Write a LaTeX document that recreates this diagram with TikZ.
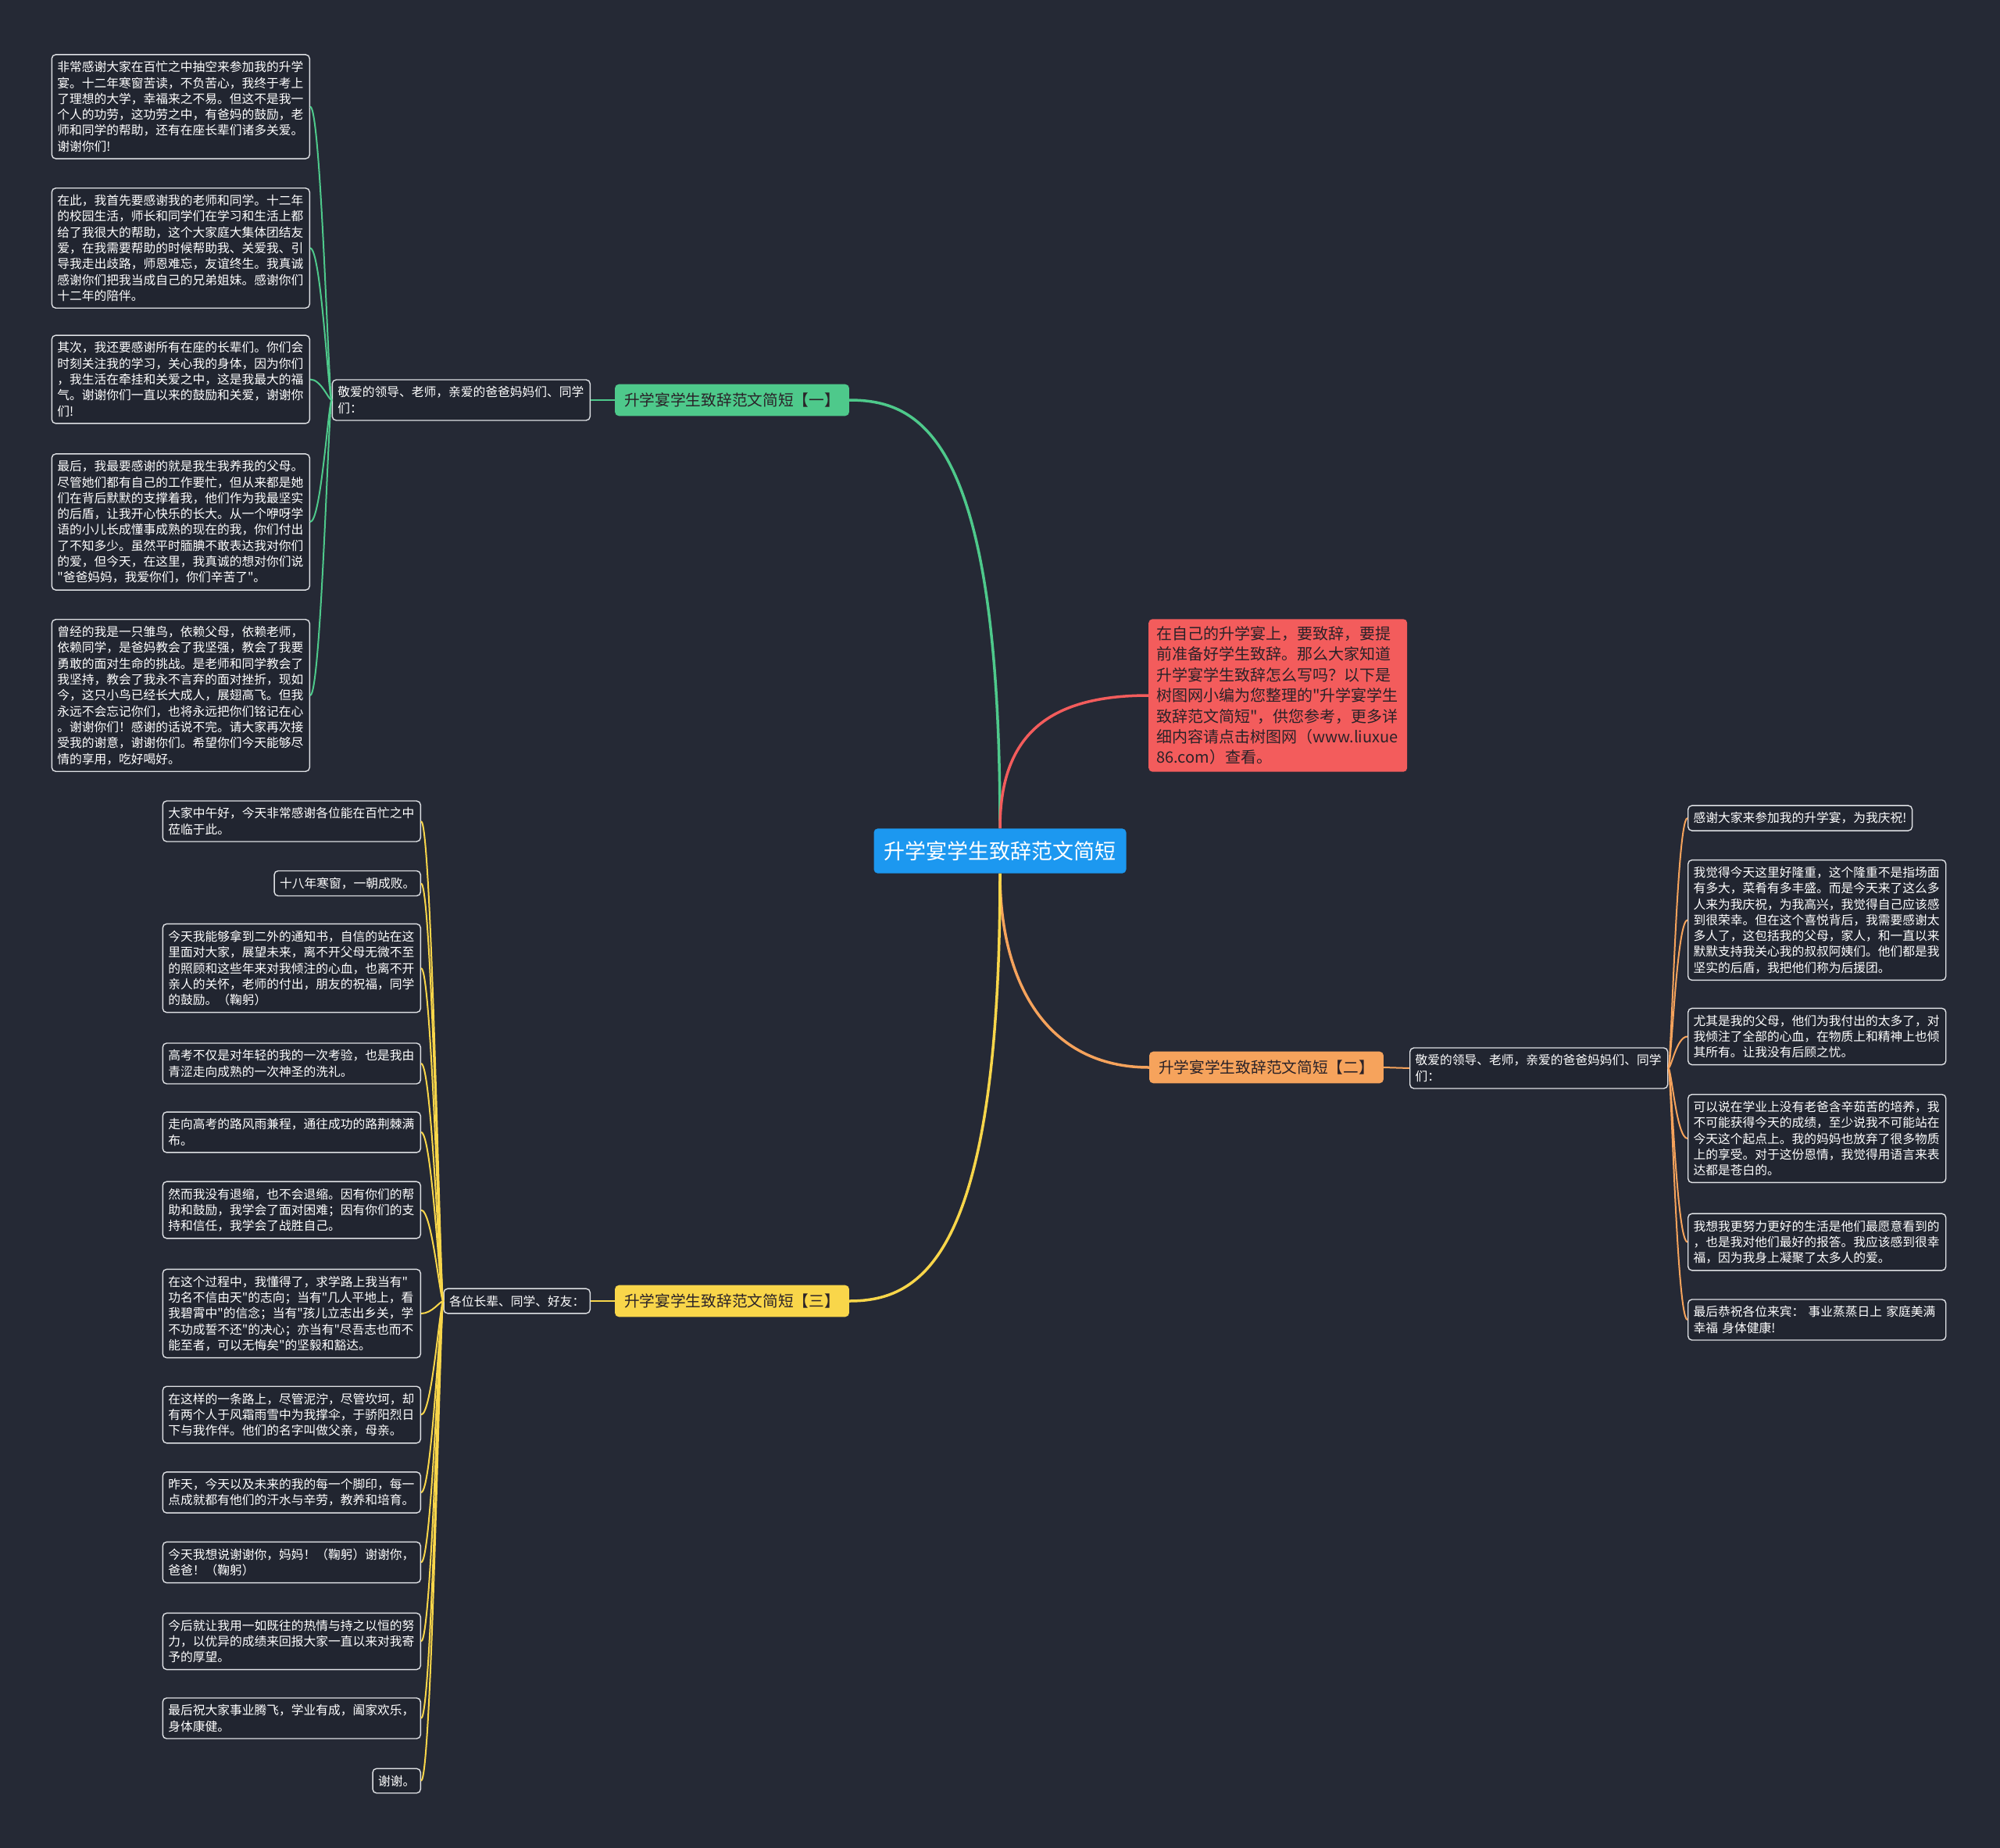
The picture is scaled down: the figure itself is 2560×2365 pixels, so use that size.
\documentclass[tikz,border=0pt]{standalone}
\usepackage{fontspec}
\setmainfont{Noto Sans CJK SC}[Ligatures=TeXOff]
\usepackage{tikz}
\newcommand{\dq}{\char34\relax}
\definecolor{bgnavy}{RGB}{37,41,53}
\definecolor{boxfill}{RGB}{33,37,48}
\definecolor{boxline}{RGB}{222,224,228}
\definecolor{topicblue}{RGB}{28,152,240}
\definecolor{introred}{RGB}{243,92,92}
\definecolor{brgreen}{RGB}{78,201,139}
\definecolor{brorange}{RGB}{246,163,92}
\definecolor{bryellow}{RGB}{249,214,74}
\definecolor{darktext}{RGB}{42,34,40}

\begin{document}
\begin{tikzpicture}[x=1pt,y=1pt,
    leaf/.style={draw=boxline, fill=boxfill, line width=1.4pt, rounded corners=5pt, text=white, align=left,
        inner xsep=7pt, inner ysep=8.5pt, font=\fontsize{15.75}{20.3}\selectfont},
    leafw/.style={leaf, text width=316pt},
    topic/.style={fill=topicblue, rounded corners=5pt, text=white, inner xsep=13pt, inner ysep=16pt,
        font=\fontsize{27}{30}\selectfont},
    intro/.style={fill=introred, rounded corners=5pt, text=darktext, align=left, text width=311pt,
        inner xsep=10pt, inner ysep=9pt, font=\fontsize{20}{26.4}\selectfont},
    branch/.style={fill=#1, rounded corners=5pt, text=darktext, inner xsep=12pt, inner ysep=11pt,
        font=\fontsize{19.7}{22}\selectfont},
    link/.style={line width=3.5pt, draw=#1},
    twig/.style={line width=2pt, draw=#1}]
    \fill[bgnavy] (0,0) rectangle (2560,-2365);
    \useasboundingbox (0,0) rectangle (2560,-2365);

    % centre and intro
    \node[topic] (main) at (1280,-1089) {升学宴学生致辞范文简短};
    \node[intro, anchor=west] (intro) at (1470,-890) {在自己的升学宴上，要致辞，要提\\前准备好学生致辞。那么大家知道\\升学宴学生致辞怎么写吗？以下是\\树图网小编为您整理的\dq 升学宴学生\\致辞范文简短\dq ，供您参考，更多详\\细内容请点击树图网（www.liuxue\\86.com）查看。};

    % the three branches
    \node[branch=brgreen] (b1) at (937,-512) {升学宴学生致辞范文简短【一】};
    \node[branch=brorange] (b2) at (1621,-1366) {升学宴学生致辞范文简短【二】};
    \node[branch=bryellow] (b3) at (937,-1665) {升学宴学生致辞范文简短【三】};

    \node[leafw, anchor=east] (s1) at (756,-512) {敬爱的领导、老师，亲爱的爸爸妈妈们、同学\\们：};
    \node[leafw, anchor=west] (s2) at (1804,-1367) {敬爱的领导、老师，亲爱的爸爸妈妈们、同学\\们：};
    \node[leaf, anchor=east] (s3) at (756,-1665) {各位长辈、同学、好友：};

    % branch one
    \node[leafw, anchor=east] (l1) at (397,-136.5) {非常感谢大家在百忙之中抽空来参加我的升学\\宴。十二年寒窗苦读，不负苦心，我终于考上\\了理想的大学，幸福来之不易。但这不是我一\\个人的功劳，这功劳之中，有爸妈的鼓励，老\\师和同学的帮助，还有在座长辈们诸多关爱。\\谢谢你们!};
    \node[leafw, anchor=east] (l2) at (397,-317.5) {在此，我首先要感谢我的老师和同学。十二年\\的校园生活，师长和同学们在学习和生活上都\\给了我很大的帮助，这个大家庭大集体团结友\\爱，在我需要帮助的时候帮助我、关爱我、引\\导我走出歧路，师恩难忘，友谊终生。我真诚\\感谢你们把我当成自己的兄弟姐妹。感谢你们\\十二年的陪伴。};
    \node[leafw, anchor=east] (l3) at (397,-485.5) {其次，我还要感谢所有在座的长辈们。你们会\\时刻关注我的学习，关心我的身体，因为你们\\，我生活在牵挂和关爱之中，这是我最大的福\\气。谢谢你们一直以来的鼓励和关爱，谢谢你\\们!};
    \node[leafw, anchor=east] (l4) at (397,-668) {最后，我最要感谢的就是我生我养我的父母。\\尽管她们都有自己的工作要忙，但从来都是她\\们在背后默默的支撑着我，他们作为我最坚实\\的后盾，让我开心快乐的长大。从一个咿呀学\\语的小儿长成懂事成熟的现在的我，你们付出\\了不知多少。虽然平时腼腆不敢表达我对你们\\的爱，但今天，在这里，我真诚的想对你们说\\\dq 爸爸妈妈，我爱你们，你们辛苦了\dq 。};
    \node[leafw, anchor=east] (l5) at (397,-890) {曾经的我是一只雏鸟，依赖父母，依赖老师，\\依赖同学，是爸妈教会了我坚强，教会了我要\\勇敢的面对生命的挑战。是老师和同学教会了\\我坚持，教会了我永不言弃的面对挫折，现如\\今，这只小鸟已经长大成人，展翅高飞。但我\\永远不会忘记你们，也将永远把你们铭记在心\\。谢谢你们！感谢的话说不完。请大家再次接\\受我的谢意，谢谢你们。希望你们今天能够尽\\情的享用，吃好喝好。};

    % branch two
    \node[leaf, anchor=west] (r1) at (2160,-1047) {感谢大家来参加我的升学宴，为我庆祝!};
    \node[leafw, anchor=west] (r2) at (2160,-1177.5) {我觉得今天这里好隆重，这个隆重不是指场面\\有多大，菜肴有多丰盛。而是今天来了这么多\\人来为我庆祝，为我高兴，我觉得自己应该感\\到很荣幸。但在这个喜悦背后，我需要感谢太\\多人了，这包括我的父母，家人，和一直以来\\默默支持我关心我的叔叔阿姨们。他们都是我\\坚实的后盾，我把他们称为后援团。};
    \node[leafw, anchor=west] (r3) at (2160,-1326.5) {尤其是我的父母，他们为我付出的太多了，对\\我倾注了全部的心血，在物质上和精神上也倾\\其所有。让我没有后顾之忧。};
    \node[leafw, anchor=west] (r4) at (2160,-1457) {可以说在学业上没有老爸含辛茹苦的培养，我\\不可能获得今天的成绩，至少说我不可能站在\\今天这个起点上。我的妈妈也放弃了很多物质\\上的享受。对于这份恩情，我觉得用语言来表\\达都是苍白的。};
    \node[leafw, anchor=west] (r5) at (2160,-1589.5) {我想我更努力更好的生活是他们最愿意看到的\\，也是我对他们最好的报答。我应该感到很幸\\福，因为我身上凝聚了太多人的爱。};
    \node[leafw, anchor=west] (r6) at (2160,-1689) {最后恭祝各位来宾： 事业蒸蒸日上 家庭美满\\幸福 身体健康!};

    % branch three
    \node[leafw, anchor=east] (m1) at (539,-1051) {大家中午好，今天非常感谢各位能在百忙之中\\莅临于此。};
    \node[leaf, anchor=east] (m2) at (539,-1130.5) {十八年寒窗，一朝成败。};
    \node[leafw, anchor=east] (m3) at (539,-1239) {今天我能够拿到二外的通知书，自信的站在这\\里面对大家，展望未来，离不开父母无微不至\\的照顾和这些年来对我倾注的心血，也离不开\\亲人的关怀，老师的付出，朋友的祝福，同学\\的鼓励。（鞠躬）};
    \node[leafw, anchor=east] (m4) at (539,-1361) {高考不仅是对年轻的我的一次考验，也是我由\\青涩走向成熟的一次神圣的洗礼。};
    \node[leafw, anchor=east] (m5) at (539,-1449) {走向高考的路风雨兼程，通往成功的路荆棘满\\布。};
    \node[leafw, anchor=east] (m6) at (539,-1548.5) {然而我没有退缩，也不会退缩。因有你们的帮\\助和鼓励，我学会了面对困难；因有你们的支\\持和信任，我学会了战胜自己。};
    \node[leafw, anchor=east] (m7) at (539,-1681) {在这个过程中，我懂得了，求学路上我当有\dq \\功名不信由天\dq 的志向；当有\dq 几人平地上，看\\我碧霄中\dq 的信念；当有\dq 孩儿立志出乡关，学\\不功成誓不还\dq 的决心；亦当有\dq 尽吾志也而不\\能至者，可以无悔矣\dq 的坚毅和豁达。};
    \node[leafw, anchor=east] (m8) at (539,-1810.5) {在这样的一条路上，尽管泥泞，尽管坎坷，却\\有两个人于风霜雨雪中为我撑伞，于骄阳烈日\\下与我作伴。他们的名字叫做父亲，母亲。};
    \node[leafw, anchor=east] (m9) at (539,-1910) {昨天，今天以及未来的我的每一个脚印，每一\\点成就都有他们的汗水与辛劳，教养和培育。};
    \node[leafw, anchor=east] (m10) at (539,-1999.5) {今天我想说谢谢你，妈妈！（鞠躬）谢谢你，\\爸爸！（鞠躬）};
    \node[leafw, anchor=east] (m11) at (539,-2100.5) {今后就让我用一如既往的热情与持之以恒的努\\力，以优异的成绩来回报大家一直以来对我寄\\予的厚望。};
    \node[leafw, anchor=east] (m12) at (539,-2199) {最后祝大家事业腾飞，学业有成，阖家欢乐，\\身体康健。};
    \node[leaf, anchor=east] (m13) at (539,-2279) {谢谢。};

    % connectors
    \draw[link=brgreen] (main.north) .. controls +(0,498) and +(93,0) .. (b1.east);
    \draw[link=introred] (main.north) .. controls +(0,118) and +(-130,0) .. (intro.west);
    \draw[link=brorange] (main.south) .. controls +(0,-140) and +(-131,0) .. (b2.west);
    \draw[link=bryellow] (main.south) .. controls +(0,-490) and +(93,0) .. (b3.east);

    \draw[twig=brgreen] (b1.west) -- (s1.east);
    \draw[twig=brorange] (b2.east) -- (s2.west);
    \draw[twig=bryellow] (b3.west) -- (s3.east);

    \foreach \n in {l1,l2,l3,l4,l5}
        \draw[twig=brgreen] (s1.west) to[out=180, in=0, out distance=4pt, in distance=14pt] (\n.east);
    \foreach \n in {r1,r2,r3,r4,r5,r6}
        \draw[twig=brorange] (s2.east) to[out=0, in=180, out distance=4pt, in distance=14pt] (\n.west);
    \foreach \n in {m1,m2,m3,m4,m5,m6,m7,m8,m9,m10,m11,m12,m13}
        \draw[twig=bryellow] (s3.west) to[out=180, in=0, out distance=4pt, in distance=14pt] (\n.east);
\end{tikzpicture}
\end{document}
